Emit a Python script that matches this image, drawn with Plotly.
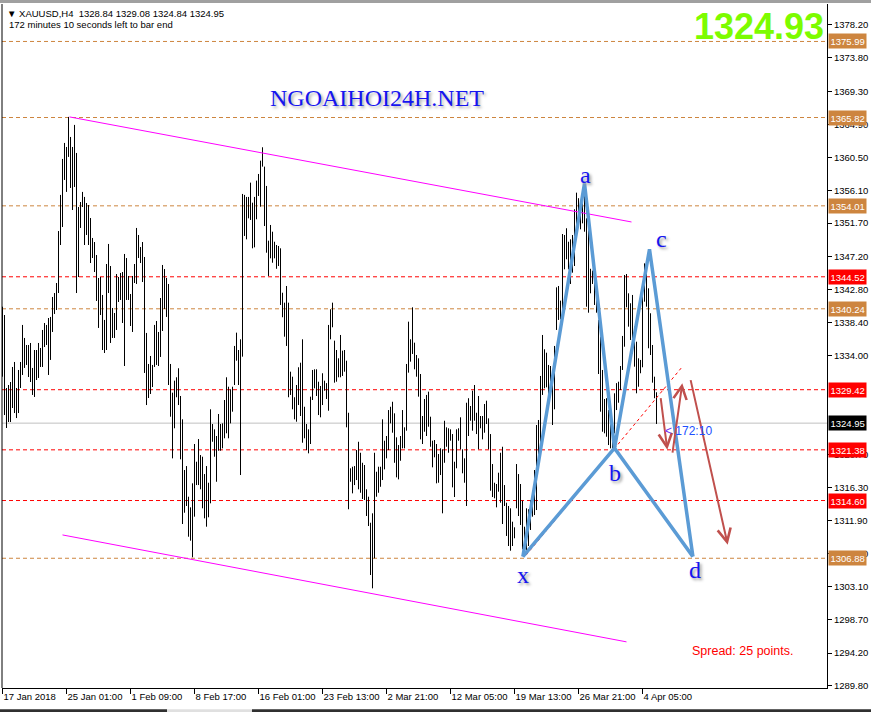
import plotly.graph_objects as go

# ---------------- data ----------------
highs = [1340.52,1339.41,1329.65,1330.05,1330.45,1332.46,1333.13,1329.65,1332.06,1333.13,
1338.08,1336.34,1335.40,1335.40,1335.67,1332.33,1334.73,1334.73,1335.67,1335.00,
1337.41,1338.34,1338.08,1339.01,1339.15,1341.82,1342.35,1343.69,1350.64,1355.47,
1360.28,1362.42,1361.88,1365.90,1363.22,1361.88,1364.83,1361.08,1353.85,1354.52,
1355.87,1355.20,1354.39,1354.12,1352.38,1349.71,1349.17,1347.43,1344.36,1344.49,
1342.09,1338.75,1346.23,1348.91,1345.96,1340.35,1339.68,1344.89,1344.49,1345.03,
1345.16,1347.57,1347.03,1344.63,1342.22,1344.63,1346.23,1351.05,1350.11,1348.50,
1349.17,1347.17,1337.01,1332.86,1333.93,1332.73,1338.08,1338.61,1337.14,1341.68,
1346.10,1345.56,1344.36,1343.56,1332.86,1329.02,1330.63,1331.08,1332.29,1328.58,
1325.46,1318.68,1319.21,1315.11,1313.69,1316.90,1322.16,1319.79,1322.82,1320.68,
1320.46,1318.14,1319.21,1316.98,1326.80,1324.83,1324.12,1323.23,1326.17,1324.83,
1324.92,1328.04,1331.08,1329.82,1329.48,1329.82,1335.27,1337.05,1334.73,1336.16,
1355.60,1355.47,1355.20,1355.20,1357.11,1354.43,1355.20,1357.38,1358.27,1360.05,
1361.84,1359.25,1356.67,1349.35,1351.45,1350.55,1349.21,1348.77,1348.64,1348.33,
1342.39,1341.06,1343.29,1341.06,1331.83,1331.16,1328.41,1330.05,1332.42,1333.03,
1336.16,1327.14,1324.83,1324.12,1328.49,1332.06,1332.15,1332.15,1330.49,1329.92,
1331.62,1330.63,1330.30,1338.08,1340.18,1341.06,1335.98,1334.73,1333.62,1336.74,
1334.64,1334.73,1333.30,1326.34,1318.91,1319.12,1319.21,1321.35,1322.46,1320.99,
1319.65,1319.35,1316.10,1315.11,1311.63,1312.89,1320.99,1318.45,1319.12,1319.12,
1325.46,1322.60,1323.23,1326.70,1327.14,1327.81,1326.26,1323.05,1322.02,1323.23,
1326.70,1324.39,1332.86,1338.52,1336.16,1340.44,1335.71,1334.06,1333.62,1331.52,
1325.90,1328.18,1328.72,1329.16,1325.81,1322.60,1322.69,1322.16,1320.82,1321.58,
1321.45,1325.27,1324.39,1324.26,1324.12,1323.49,1319.79,1324.12,1324.26,1325.73,
1321.45,1320.24,1327.68,1328.28,1327.24,1329.29,1330.05,1326.34,1328.58,1325.90,
1325.90,1327.51,1327.95,1325.59,1323.49,1319.48,1316.98,1316.81,1318.32,1320.99,
1321.79,1316.67,1314.31,1313.87,1313.56,1311.77,1311.02,1319.48,1318.14,1316.81,
1314.58,1311.10,1313.56,1313.43,1314.67,1314.80,1318.68,1324.70,1325.37,1331.26,
1336.74,1334.83,1334.37,1332.73,1332.59,1331.70,1335.27,1343.11,1343.29,1341.33,
1350.24,1350.11,1351.01,1349.21,1349.53,1350.11,1353.55,1355.77,1355.03,1353.89,
1354.70,1355.97,1352.34,1351.67,1345.59,1345.34,1344.00,1342.75,1338.75,1336.51,
1332.06,1328.18,1328.28,1326.70,1325.46,1324.47,1328.94,1330.30,1330.49,1332.59,
1336.61,1344.76,1344.89,1342.31,1340.98,1342.09,1337.85,1335.84,1333.62,1333.40,
1342.75,1346.32,1345.96,1342.98,1339.64,1335.40,1331.16,1329.08]

lows = [1331.16,1326.03,1324.30,1325.10,1325.10,1326.97,1326.30,1325.63,1326.30,1329.65,
1331.39,1332.33,1332.73,1331.12,1330.45,1328.72,1328.45,1330.72,1330.99,1332.46,
1332.46,1335.13,1335.40,1331.39,1333.40,1337.14,1339.55,1340.08,1342.35,1348.77,
1351.18,1357.47,1355.87,1360.55,1356.40,1353.45,1356.53,1342.35,1344.49,1351.05,
1353.85,1348.77,1350.11,1348.77,1346.36,1347.03,1345.16,1341.29,1337.68,1339.41,
1334.73,1334.33,1334.73,1342.35,1335.67,1336.34,1336.34,1337.41,1341.15,1341.42,
1338.34,1332.59,1341.42,1341.42,1337.94,1337.14,1343.69,1343.56,1347.03,1346.36,
1343.82,1331.66,1327.37,1328.31,1328.85,1329.78,1332.46,1332.73,1332.59,1333.80,
1337.27,1340.22,1339.15,1330.05,1325.81,1320.24,1324.26,1328.41,1327.37,1320.11,
1311.46,1312.97,1313.87,1309.76,1309.23,1307.01,1312.44,1316.67,1316.67,1316.10,
1313.56,1312.22,1311.10,1312.36,1314.23,1322.46,1320.46,1317.11,1321.26,1321.26,
1321.58,1322.92,1323.59,1322.92,1324.92,1326.48,1330.05,1333.30,1330.05,1318.01,
1333.84,1349.98,1349.53,1352.34,1352.12,1348.33,1348.46,1352.21,1355.33,1353.89,
1359.25,1351.31,1347.74,1344.63,1346.99,1346.40,1346.99,1345.59,1345.96,1340.75,
1339.11,1336.51,1335.27,1328.41,1328.72,1326.80,1325.46,1325.14,1327.37,1325.90,
1322.33,1322.92,1321.35,1320.91,1322.16,1328.04,1329.61,1328.58,1326.03,1325.73,
1327.37,1329.29,1328.18,1326.61,1336.16,1337.77,1330.36,1330.49,1331.08,1331.08,
1331.26,1331.83,1324.39,1313.43,1317.11,1315.56,1316.67,1317.34,1316.10,1315.64,
1314.80,1314.67,1312.53,1311.19,1304.64,1302.86,1306.87,1315.11,1315.64,1316.44,
1317.34,1318.77,1320.24,1321.35,1324.92,1323.67,1319.65,1317.70,1317.43,1319.92,
1321.58,1321.58,1323.94,1331.70,1333.17,1334.20,1332.15,1331.16,1328.49,1322.78,
1322.16,1323.80,1323.23,1324.47,1321.79,1319.04,1320.38,1316.90,1316.98,1318.01,
1312.89,1319.65,1321.79,1320.99,1322.60,1316.36,1315.07,1318.91,1322.60,1321.45,
1318.24,1316.98,1313.87,1323.23,1325.27,1323.94,1325.27,1323.49,1321.45,1324.26,
1322.78,1323.67,1324.83,1321.45,1315.91,1315.07,1314.90,1313.69,1315.78,1314.31,
1311.46,1313.87,1309.86,1308.52,1307.89,1308.52,1309.55,1313.56,1312.53,1311.33,
1308.08,1307.31,1307.98,1308.52,1310.66,1312.44,1312.66,1313.33,1319.12,1322.46,
1328.72,1329.61,1329.74,1327.81,1329.29,1324.70,1326.80,1337.41,1338.75,1338.84,
1340.18,1345.52,1346.86,1345.52,1343.56,1345.07,1345.96,1350.11,1351.75,1350.87,
1351.67,1350.55,1340.52,1339.72,1342.31,1343.56,1340.75,1339.72,1331.52,1326.48,
1323.80,1323.59,1323.13,1322.02,1321.58,1321.58,1323.59,1326.70,1327.68,1329.38,
1332.06,1335.17,1340.44,1337.85,1336.07,1334.29,1332.50,1328.94,1329.82,1331.62,
1332.42,1341.19,1340.52,1334.96,1334.06,1330.36,1328.28,1324.84]

date_labels = ["17 Jan 2018", "25 Jan 01:00", "1 Feb 09:00", "8 Feb 17:00",
               "16 Feb 01:00", "23 Feb 13:00", "2 Mar 21:00", "12 Mar 05:00",
               "19 Mar 13:00", "26 Mar 21:00", "4 Apr 05:00"]
bars_per_label = 32

# visible price scale labels (the ones fully hidden under level tags are left out)
price_ticks = [1378.20, 1373.80, 1369.30, 1364.90, 1360.50, 1356.10, 1351.70,
               1347.20, 1342.80, 1338.40, 1334.00, 1320.70,
               1316.30, 1311.90, 1307.50, 1303.10, 1298.70, 1294.20, 1289.80]

level_prices = [1375.99, 1365.82, 1354.01, 1344.52, 1340.24, 1329.42, 1321.38, 1314.60, 1306.88]
level_kinds  = ["orange", "orange", "orange", "red", "orange", "red", "red", "red", "orange"]
current_price = 1324.95

# channel trendlines (bar index, price)
upper_idx, upper_px = [33.5, 314.5], [1365.9, 1351.85]
lower_idx, lower_px = [30.0, 312.0], [1310.0, 1295.7]

# harmonic pattern points
pat_names = ["x", "a", "b", "c", "d"]
pat_idx = [260.2, 291.0, 306.0, 323.5, 345.2]
pat_px = [1307.1, 1357.0, 1321.6, 1348.2, 1307.1]
lab_idx = [260.2, 291.5, 306.0, 329.3, 346.0]
lab_px = [1304.6, 1358.2, 1318.3, 1349.6, 1305.3]

# red dotted line x -> beyond
dot_idx, dot_px = [261.8, 339.3], [1307.3, 1332.3]

# brown arrows (start idx, start price, end idx, end price)
arr_start_idx = [329.0, 334.9, 343.9]
arr_start_px = [1328.5, 1320.8, 1330.9]
arr_end_idx = [332.4, 339.9, 362.6]
arr_end_px = [1321.4, 1330.3, 1308.7]

# ---------------- figure ----------------
ORANGE = "#CD853F"
RED = "#FF0000"
BLUE_PAT = "#5B9BD5"
BROWN = "#C0504D"
UI_FONT = "Liberation Sans"

fig = go.Figure()

bx, by = [], []
for i, (h, l) in enumerate(zip(highs, lows)):
    bx += [i, i, None]
    by += [l, h, None]
fig.add_trace(go.Scatter(x=bx, y=by, mode="lines", line=dict(color="black", width=1),
                         hoverinfo="skip"))

fig.add_trace(go.Scatter(x=upper_idx, y=upper_px, mode="lines",
                         line=dict(color="#FF00FF", width=1), hoverinfo="skip"))
fig.add_trace(go.Scatter(x=lower_idx, y=lower_px, mode="lines",
                         line=dict(color="#FF00FF", width=1), hoverinfo="skip"))
fig.add_trace(go.Scatter(x=dot_idx, y=dot_px, mode="lines",
                         line=dict(color=RED, width=1, dash="dot"), hoverinfo="skip"))

# pattern: x-a-b-c-d and x-b-d
order1 = [0, 1, 2, 3, 4]
order2 = [0, 2, 4]
for order in (order1, order2):
    fig.add_trace(go.Scatter(x=[pat_idx[k] for k in order], y=[pat_px[k] for k in order],
                             mode="lines", line=dict(color=BLUE_PAT, width=3.5),
                             hoverinfo="skip"))

shapes = []
for p, k in zip(level_prices, level_kinds):
    shapes.append(dict(type="line", xref="paper", x0=0, x1=1, yref="y", y0=p, y1=p,
                       line=dict(color=ORANGE if k == "orange" else RED, width=1,
                                 dash="4px,3px"), layer="below"))
shapes.append(dict(type="line", xref="paper", x0=0, x1=1, yref="y", y0=current_price,
                   y1=current_price, line=dict(color="#C0C0C0", width=1), layer="below"))
# left frame line
shapes.append(dict(type="line", xref="paper", x0=0, x1=0, yref="paper", y0=0, y1=1,
                   line=dict(color="black", width=1)))
# window border top & bottom tab strip
shapes.append(dict(type="rect", xref="paper", x0=-0.01, x1=1.06, yref="paper", y0=1.0015,
                   y1=1.01, fillcolor="#A0A0A0", line=dict(width=0)))
shapes.append(dict(type="rect", xref="paper", x0=-0.01, x1=0.2, yref="paper", y0=-0.036,
                   y1=-0.031, fillcolor="#303030", line=dict(width=0)))
shapes.append(dict(type="rect", xref="paper", x0=0.2, x1=0.303, yref="paper", y0=-0.036,
                   y1=-0.031, fillcolor="#E0E0E0", line=dict(width=0)))
shapes.append(dict(type="rect", xref="paper", x0=0.303, x1=1.06, yref="paper", y0=-0.036,
                   y1=-0.031, fillcolor="#303030", line=dict(width=0)))

ann = []
# price labels on right axis
for p, k in zip(level_prices, level_kinds):
    ann.append(dict(x=1, xref="paper", xanchor="left", xshift=1, y=p, yref="y",
                    yanchor="middle", text=f"{p:.2f}", showarrow=False,
                    bgcolor=ORANGE if k == "orange" else RED,
                    font=dict(family=UI_FONT, size=9.5, color="white"), borderpad=1.5))
ann.append(dict(x=1, xref="paper", xanchor="left", xshift=1, y=current_price, yref="y",
                yanchor="middle", text=f"{current_price:.2f}", showarrow=False, bgcolor="black",
                font=dict(family=UI_FONT, size=9.5, color="white"), borderpad=1.5))

# pattern letters
for n, xi, yp in zip(pat_names, lab_idx, lab_px):
    ann.append(dict(x=xi, y=yp, xref="x", yref="y", text=n, showarrow=False,
                    xanchor="center", yanchor="middle",
                    font=dict(family="Liberation Serif", size=24, color="#1515F0",
                              shadow="2px 2px 3px #999999")))

# brown arrows
for sx, sy, ex, ey in zip(arr_start_idx, arr_start_px, arr_end_idx, arr_end_px):
    ann.append(dict(x=ex, y=ey, ax=sx, ay=sy, xref="x", yref="y", axref="x", ayref="y",
                    text="", showarrow=True, arrowhead=5, arrowsize=1.3, arrowwidth=2,
                    arrowcolor=BROWN))

ann.append(dict(x=0.4545, y=0.8626, xref="paper", yref="paper", text="NGOAIHOI24H.NET",
                xanchor="center", yanchor="middle", showarrow=False,
                font=dict(family="Liberation Serif", size=24, color="#1515F0",
                          shadow="2px 2px 3px #aaaaaa")))
ann.append(dict(x=0.9988, y=0.9664, xref="paper", yref="paper", text="1324.93",
                xanchor="right", yanchor="middle", showarrow=False,
                font=dict(family=UI_FONT, size=36, color="#7CFC00", weight="bold")))
ann.append(dict(x=0.834, y=0.0541, xref="paper", yref="paper", xanchor="left",
                yanchor="middle", text="Spread: 25 points.", showarrow=False,
                font=dict(family=UI_FONT, size=12.5, color="#FF0000")))
ann.append(dict(x=0.8012, y=0.3757, xref="paper", yref="paper", xanchor="left",
                yanchor="middle",
                text="<span style='color:#7030F0'>&lt;</span> 172:10", showarrow=False,
                font=dict(family=UI_FONT, size=12, color="#2050FF")))
ann.append(dict(x=0.0036, y=0.9868, xref="paper", yref="paper", xanchor="left",
                yanchor="middle",
                text="▼ XAUUSD,H4  1328.84 1329.08 1324.84 1324.95", showarrow=False,
                font=dict(family=UI_FONT, size=9.5, color="black")))
ann.append(dict(x=0.006, y=0.9693, xref="paper", yref="paper", xanchor="left",
                yanchor="middle",
                text="172 minutes 10 seconds left to bar end", showarrow=False,
                font=dict(family=UI_FONT, size=9.5, color="black")))

fig.update_layout(
    width=871, height=712,
    margin=dict(l=2, r=44, t=4, b=24, pad=0, autoexpand=False),
    paper_bgcolor="white", plot_bgcolor="white",
    showlegend=False,
    shapes=shapes, annotations=ann,
    xaxis=dict(range=[-0.25, 412.25], tickvals=[i * bars_per_label for i in range(len(date_labels))],
               ticktext=date_labels, ticks="outside", ticklen=5, tickcolor="black",
               ticklabelposition="outside right", tickangle=0, automargin=False,
               showgrid=False, zeroline=False, showline=True, linecolor="black", linewidth=1,
               tickfont=dict(family=UI_FONT, size=9.5, color="black"), fixedrange=True),
    yaxis=dict(range=[1289.53, 1381.0], side="right", tickvals=price_ticks,
               ticktext=[f"{v:.2f}" for v in price_ticks], ticks="outside", ticklen=4,
               tickcolor="black", showgrid=False, zeroline=False, showline=True,
               linecolor="black", linewidth=1, automargin=False,
               tickfont=dict(family=UI_FONT, size=9.5, color="black"), fixedrange=True),
)

fig.write_html("out.html", config={"displayModeBar": False},
               post_script="document.body.style.margin='0';document.body.style.padding='0';")
